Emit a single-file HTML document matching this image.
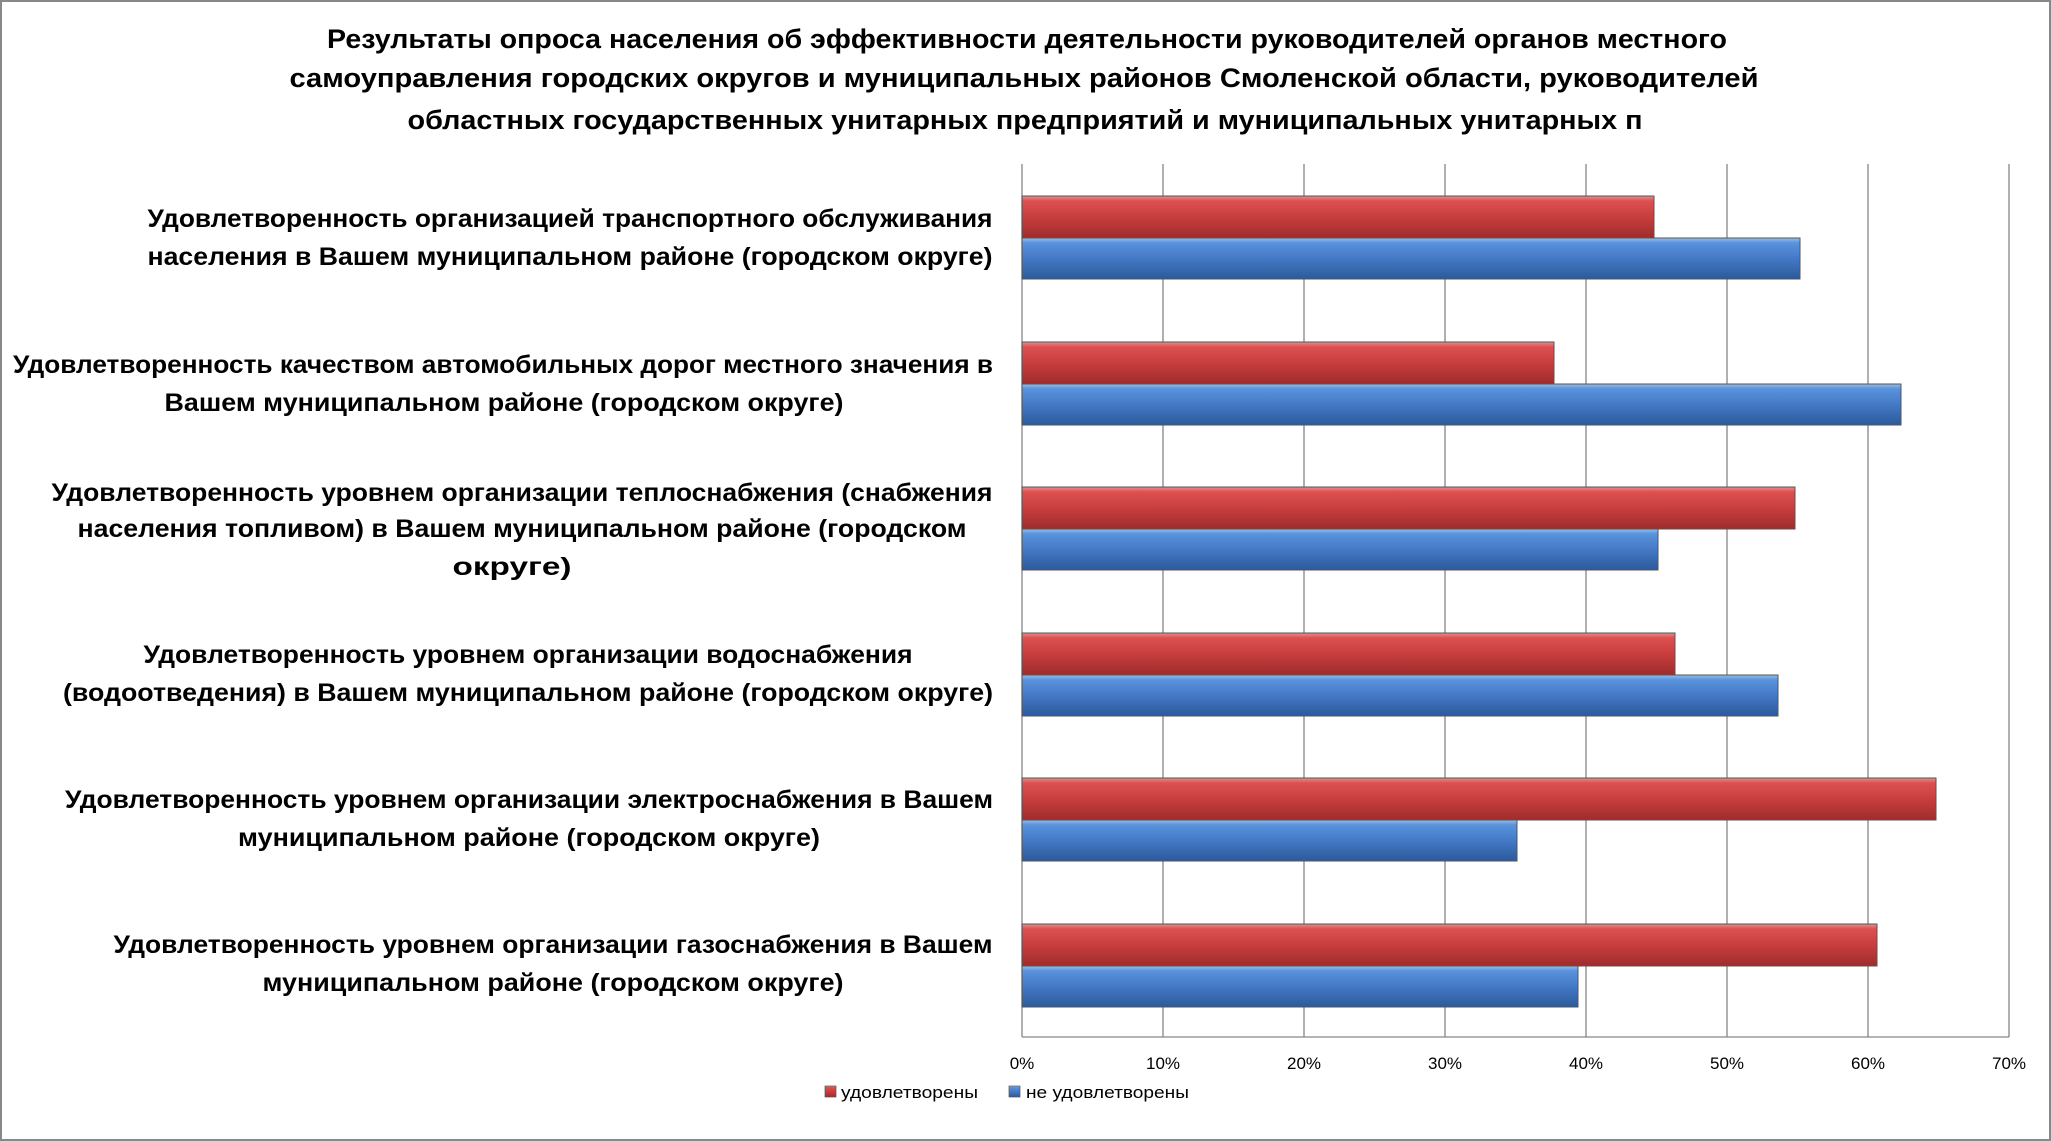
<!DOCTYPE html>
<html><head><meta charset="utf-8"><style>
html,body{margin:0;padding:0;background:#fff}
svg{display:block}
</style></head><body>
<svg width="2051" height="1141" viewBox="0 0 2051 1141" xmlns="http://www.w3.org/2000/svg" font-family="'Liberation Sans', sans-serif">
<defs>
<linearGradient id="r" x1="0" y1="0" x2="0" y2="1">
<stop offset="0" stop-color="#f08a8a"/><stop offset="0.12" stop-color="#dc5050"/><stop offset="0.5" stop-color="#c83e3e"/><stop offset="1" stop-color="#9e2c2c"/>
</linearGradient>
<linearGradient id="b" x1="0" y1="0" x2="0" y2="1">
<stop offset="0" stop-color="#8ec0f5"/><stop offset="0.12" stop-color="#5a92dc"/><stop offset="0.5" stop-color="#4479c6"/><stop offset="1" stop-color="#2c5a9a"/>
</linearGradient>
</defs>
<rect x="1" y="1" width="2049" height="1139" fill="#fff" stroke="#888" stroke-width="2"/>
<g font-weight="bold" font-size="27" text-anchor="middle" fill="#000">
<text x="1027" y="48" textLength="1400" lengthAdjust="spacingAndGlyphs">Результаты опроса населения об эффективности деятельности руководителей органов местного</text>
<text x="1024" y="87" textLength="1469" lengthAdjust="spacingAndGlyphs">самоуправления городских округов и муниципальных районов Смоленской области, руководителей</text>
<text x="1025" y="129" textLength="1235" lengthAdjust="spacingAndGlyphs">областных государственных унитарных предприятий и муниципальных унитарных п</text>
</g>
<g stroke="#868686" stroke-width="1.3">
<line x1="1163" y1="164" x2="1163" y2="1037"/><line x1="1304" y1="164" x2="1304" y2="1037"/>
<line x1="1445" y1="164" x2="1445" y2="1037"/><line x1="1586" y1="164" x2="1586" y2="1037"/>
<line x1="1727" y1="164" x2="1727" y2="1037"/><line x1="1868" y1="164" x2="1868" y2="1037"/>
<line x1="2009" y1="164" x2="2009" y2="1037"/>
<line x1="1022" y1="164" x2="1022" y2="1037"/><line x1="1022" y1="1037" x2="2009" y2="1037"/>
</g>
<g stroke="#555" stroke-width="1">
<rect x="1022" y="196" width="632" height="42" fill="url(#r)"/>
<rect x="1022" y="238" width="778" height="41" fill="url(#b)"/>
<rect x="1022" y="342" width="532" height="42" fill="url(#r)"/>
<rect x="1022" y="384" width="879" height="41" fill="url(#b)"/>
<rect x="1022" y="487" width="773" height="42" fill="url(#r)"/>
<rect x="1022" y="529" width="636" height="41" fill="url(#b)"/>
<rect x="1022" y="633" width="653" height="42" fill="url(#r)"/>
<rect x="1022" y="675" width="756" height="41" fill="url(#b)"/>
<rect x="1022" y="778" width="914" height="42" fill="url(#r)"/>
<rect x="1022" y="820" width="495" height="41" fill="url(#b)"/>
<rect x="1022" y="924" width="855" height="42" fill="url(#r)"/>
<rect x="1022" y="966" width="556" height="41" fill="url(#b)"/>
</g>
<g font-weight="bold" font-size="25" text-anchor="middle" fill="#000" lengthAdjust="spacingAndGlyphs">
<text x="570" y="227" textLength="845" lengthAdjust="spacingAndGlyphs">Удовлетворенность организацией транспортного обслуживания</text>
<text x="570" y="265" textLength="845" lengthAdjust="spacingAndGlyphs">населения в Вашем муниципальном районе (городском округе)</text>
<text x="503" y="373" textLength="980" lengthAdjust="spacingAndGlyphs">Удовлетворенность качеством автомобильных дорог местного значения в</text>
<text x="504" y="411" textLength="679" lengthAdjust="spacingAndGlyphs">Вашем муниципальном районе (городском округе)</text>
<text x="522" y="501" textLength="941" lengthAdjust="spacingAndGlyphs">Удовлетворенность уровнем организации теплоснабжения (снабжения</text>
<text x="522" y="537" textLength="889" lengthAdjust="spacingAndGlyphs">населения топливом) в Вашем муниципальном районе (городском</text>
<text x="512" y="575" textLength="119" lengthAdjust="spacingAndGlyphs">округе)</text>
<text x="528" y="663" textLength="769" lengthAdjust="spacingAndGlyphs">Удовлетворенность уровнем организации водоснабжения</text>
<text x="528" y="701" textLength="930" lengthAdjust="spacingAndGlyphs">(водоотведения) в Вашем муниципальном районе (городском округе)</text>
<text x="529" y="808" textLength="928" lengthAdjust="spacingAndGlyphs">Удовлетворенность уровнем организации электроснабжения в Вашем</text>
<text x="529" y="846" textLength="582" lengthAdjust="spacingAndGlyphs">муниципальном районе (городском округе)</text>
<text x="553" y="953" textLength="879" lengthAdjust="spacingAndGlyphs">Удовлетворенность уровнем организации газоснабжения в Вашем</text>
<text x="553" y="991" textLength="581" lengthAdjust="spacingAndGlyphs">муниципальном районе (городском округе)</text>
</g>
<g font-size="17" text-anchor="middle" fill="#000">
<text x="1022" y="1069">0%</text><text x="1163" y="1069">10%</text><text x="1304" y="1069">20%</text>
<text x="1445" y="1069">30%</text><text x="1586" y="1069">40%</text><text x="1727" y="1069">50%</text>
<text x="1868" y="1069">60%</text><text x="2009" y="1069">70%</text>
</g>
<rect x="825" y="1086" width="11" height="11" fill="url(#r)" stroke="#555" stroke-width="0.7"/>
<text x="841" y="1098" font-size="17" textLength="137" lengthAdjust="spacingAndGlyphs">удовлетворены</text>
<rect x="1009" y="1086" width="11" height="11" fill="url(#b)" stroke="#555" stroke-width="0.7"/>
<text x="1026" y="1098" font-size="17" textLength="163" lengthAdjust="spacingAndGlyphs">не удовлетворены</text>
</svg>
</body></html>
